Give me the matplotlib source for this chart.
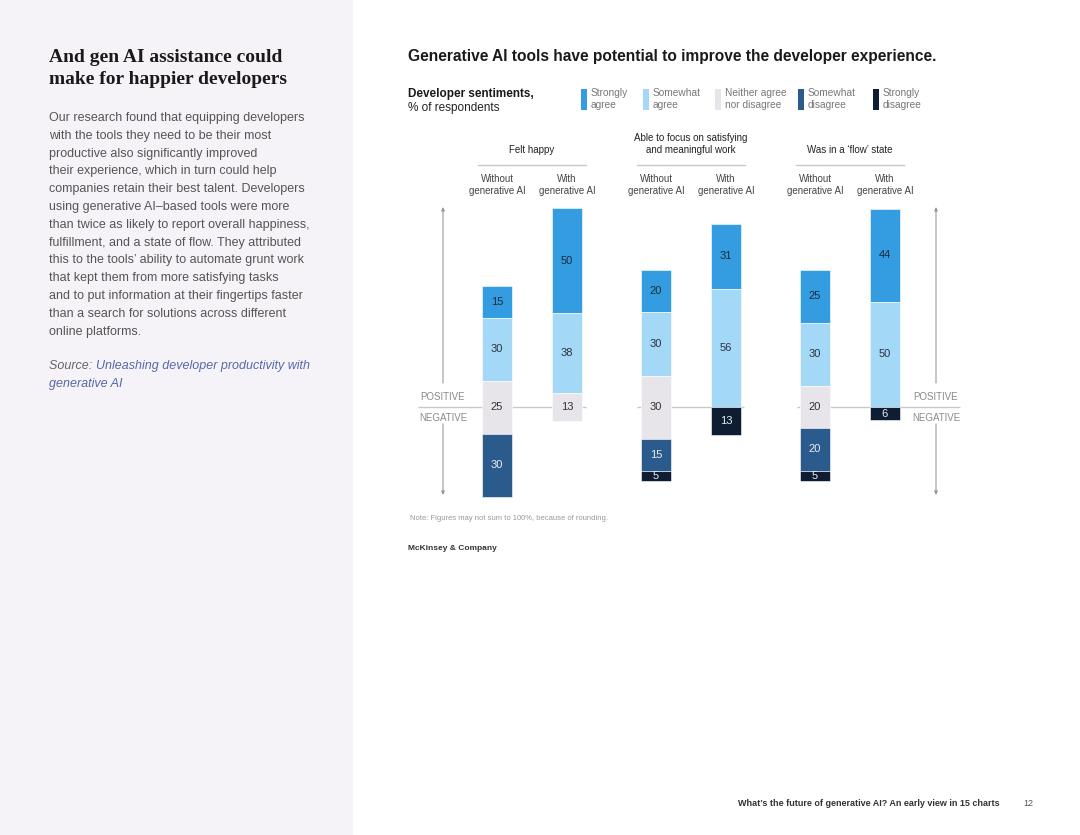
import matplotlib
matplotlib.use("Agg")
import matplotlib.pyplot as plt
from matplotlib.patches import Rectangle
from matplotlib.lines import Line2D
import numpy as np

# ---------------- data ----------------
categories = ["Felt happy", "Able to focus on satisfying\nand meaningful work", "Was in a \u2018flow\u2019 state"]
conditions = ["Without\ngenerative AI", "With\ngenerative AI"]
series_names = ["Strongly\nagree", "Somewhat\nagree", "Neither agree\nnor disagree", "Somewhat\ndisagree", "Strongly\ndisagree"]
strongly_agree = [15, 50, 20, 31, 25, 44]
somewhat_agree = [30, 38, 30, 56, 30, 50]
neutral = [25, 13, 30, 0, 20, 0]
somewhat_disagree = [30, 0, 15, 0, 20, 0]
strongly_disagree = [0, 0, 5, 13, 5, 6]

colors = ["#349ce0", "#a3d8f7", "#e8e5ea", "#2b5a8c", "#0e1d31"]
label_colors = ["#1d2b3a", "#2a3440", "#333333", "#e6eef7", "#e6eef7"]

W, H = 1080, 835
fig = plt.figure(figsize=(W / 100, H / 100), dpi=100)
fig.patch.set_facecolor("white")

SANS = ["Liberation Sans", "DejaVu Sans"]
SERIF = ["Liberation Serif", "DejaVu Serif"]


def F(x, y):
    return x / W, 1 - y / H


def ftext(x, y, s, **kw):
    kw.setdefault("family", SANS)
    return fig.text(*F(x, y), s, **kw)


def fline(x0, y0, x1, y1, **kw):
    a, b = F(x0, y0)
    c, d = F(x1, y1)
    fig.add_artist(Line2D([a, c], [b, d], transform=fig.transFigure, **kw))


# ---------------- left panel ----------------
fig.add_artist(Rectangle((0, 0), 353 / W, 1, transform=fig.transFigure,
                         facecolor="#f6f3f8", edgecolor="none", zorder=0))
ftext(49, 57, "And gen AI assistance could", family=SERIF, fontsize=14,
      fontweight="bold", color="#1a1a1a", va="center")
ftext(49, 80, "make for happier developers", family=SERIF, fontsize=14,
      fontweight="bold", color="#1a1a1a", va="center")

body = ["Our research found that equipping developers",
        "with the tools they need to be their most",
        "productive also significantly improved",
        "their experience, which in turn could help",
        "companies retain their best talent. Developers",
        "using generative AI\u2013based tools were more",
        "than twice as likely to report overall happiness,",
        "fulfillment, and a state of flow. They attributed",
        "this to the tools\u2019 ability to automate grunt work",
        "that kept them from more satisfying tasks",
        "and to put information at their fingertips faster",
        "than a search for solutions across different",
        "online platforms."]
for i, line in enumerate(body):
    ftext(49, 118 + i * 17.8, line, fontsize=9, color="#555555", va="center")

src = ftext(49, 366, "Source: ", fontsize=9, color="#666666", va="center", style="italic")
fig.canvas.draw()
r = fig.canvas.get_renderer()
bb = src.get_window_extent(r)
ftext(bb.x1, 366, "Unleashing developer productivity with", fontsize=9,
      color="#5668a8", va="center", style="italic")
ftext(49, 384, "generative AI", fontsize=9, color="#5668a8", va="center", style="italic")

# ---------------- right header ----------------
ftext(408, 56, "Generative AI tools have potential to improve the developer experience.",
      fontsize=11.2, fontweight="bold", color="#1a1a1a", va="center")
ftext(408, 94, "Developer sentiments,", fontsize=8.5, fontweight="bold", color="#1a1a1a", va="center")
ftext(408, 108, "% of respondents", fontsize=8.5, color="#222222", va="center")

leg_x = [581, 643, 715, 798, 873]
for x, name, c in zip(leg_x, series_names, colors):
    fig.add_artist(Rectangle(F(x, 110), 6 / W, 21 / H, transform=fig.transFigure,
                             facecolor=c, edgecolor="none"))
    l1, l2 = name.split("\n")
    ftext(x + 10, 93, l1, fontsize=7.3, color="#777777", va="center")
    ftext(x + 10, 105, l2, fontsize=7.3, color="#777777", va="center")

# ---------------- chart axes ----------------
ax_l, ax_r, ax_t, ax_b = 400, 980, 195, 510
zero_px, scale = 407.2, 2.11
gc0, gsp = 532.0, 159.0
ax = fig.add_axes([ax_l / W, 1 - ax_b / H, (ax_r - ax_l) / W, (ax_b - ax_t) / H])
ax.set_xlim((ax_l - gc0) / gsp, (ax_r - gc0) / gsp)
ax.set_ylim(-(ax_b - zero_px) / scale, (zero_px - ax_t) / scale)
ax.axis("off")
ax.patch.set_alpha(0)


def X(px):
    return (px - gc0) / gsp


def Y(py):
    return (zero_px - py) / scale


offset = 35 / gsp
width = 30.5 / gsp
xpos = []
for g in range(len(categories)):
    for k in range(len(conditions)):
        xpos.append(g + (k - 0.5) * 2 * offset)
xpos = np.array(xpos)

sa = np.array(strongly_agree, float)
swa = np.array(somewhat_agree, float)
ne = np.array(neutral, float)
sd = np.array(somewhat_disagree, float)
sdd = np.array(strongly_disagree, float)

bottoms = [ne / 2 + swa, ne / 2, -ne / 2, -ne / 2 - sd, -ne / 2 - sd - sdd]
values = [sa, swa, ne, sd, sdd]

# zero line segments (behind bars)
zl = [(418, 586), (637, 744), (797, 960)]
for a, b in zl:
    ax.plot([X(a), X(b)], [0, 0], color="#c8c8c8", lw=1.0, zorder=1, solid_capstyle="butt")

for vals, bots, c, lc in zip(values, bottoms, colors, label_colors):
    mask = vals > 0
    ax.bar(xpos[mask], vals[mask], bottom=bots[mask], width=width, color=c,
           edgecolor="#ffffff", linewidth=0.4, zorder=2)
    for x, v, b in zip(xpos[mask], vals[mask], bots[mask]):
        ax.text(x, b + v / 2, f"{int(v)}", ha="center", va="center", fontsize=8,
                color=lc, family=SANS, zorder=3)

# axis arrows
for axpx in (443, 936):
    ax.annotate("", xy=(X(axpx), Y(207)), xytext=(X(axpx), Y(383)),
                arrowprops=dict(arrowstyle="-|>", color="#9a9a9a", lw=0.8,
                                mutation_scale=5, shrinkA=0, shrinkB=0))
    ax.annotate("", xy=(X(axpx), Y(495)), xytext=(X(axpx), Y(424)),
                arrowprops=dict(arrowstyle="-|>", color="#9a9a9a", lw=0.8,
                                mutation_scale=5, shrinkA=0, shrinkB=0))
    ax.text(X(axpx), Y(397), "POSITIVE", ha="center", va="center", fontsize=7,
            color="#8a8a8a", family=SANS)
    ax.text(X(axpx), Y(418), "NEGATIVE", ha="center", va="center", fontsize=7,
            color="#8a8a8a", family=SANS)

# group headers
for g, cat in enumerate(categories):
    gx_px = gc0 + g * gsp
    ftext(gx_px, 150 if "\n" not in cat else 144, cat, fontsize=7, color="#222222",
          ha="center", va="center", linespacing=1.35)
    fline(gx_px - 54, 165, gx_px + 54, 165, color="#c8c8c8", lw=1.0)
    for k, cond in enumerate(conditions):
        bx = gc0 + (g + (k - 0.5) * 2 * offset) * gsp
        ftext(bx, 185, cond, fontsize=7, color="#444444", ha="center", va="center",
              linespacing=1.35)

# notes
ftext(410, 518, "Note: Figures may not sum to 100%, because of rounding.", fontsize=5.5,
      color="#999999", va="center")
ftext(408, 549, "McKinsey & Company", fontsize=6, fontweight="bold", color="#333333", va="center")
ftext(1000, 804, "What\u2019s the future of generative AI? An early view in 15 charts", fontsize=6.5,
      fontweight="bold", color="#333333", ha="right", va="center")
ftext(1028, 804, "12", fontsize=6.5, color="#555555", ha="center", va="center")

fig.savefig("out.png", dpi=100, facecolor=fig.get_facecolor())
